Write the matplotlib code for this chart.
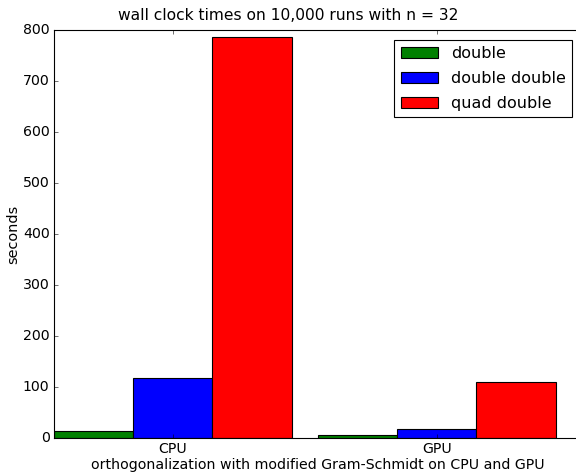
import numpy as np
import matplotlib
matplotlib.use("Agg")
import matplotlib.pyplot as plt

plt.style.use("classic")

categories = ["CPU", "GPU"]
series_names = ["double", "double double", "quad double"]
double_vals = [14, 5.5]
dd_vals = [117, 17.5]
qd_vals = [786, 109]
colors = ["green", "blue", "red"]

DPI = 80
fig = plt.figure(figsize=(576 / DPI, 472 / DPI), dpi=DPI)
ax = fig.add_axes([54 / 576, 1 - 438 / 472, 528 / 576, 408 / 472])

ind = np.arange(len(categories))
width = 0.3
for i, (vals, name, c) in enumerate(zip([double_vals, dd_vals, qd_vals], series_names, colors)):
    ax.bar(ind + i * width, vals, width, color=c, label=name, align="edge")

FS = 12.7
ax.set_xlim(0, 2)
ax.set_ylim(0, 800)
ax.set_xticks(ind + 1.5 * width)
ax.set_xticklabels(categories, fontsize=FS)
ax.tick_params(axis="y", labelsize=FS)
ax.set_ylabel("seconds", fontsize=13, labelpad=2)
ax.set_xlabel("orthogonalization with modified Gram-Schmidt on CPU and GPU", fontsize=FS, labelpad=1)
ax.legend(loc="upper right", fontsize=14.4, labelspacing=0.62, handlelength=2.3,
          handletextpad=0.85, borderaxespad=0.6)
fig.text(0.5, 1 - 15 / 472, "wall clock times on 10,000 runs with n = 32",
         ha="center", va="center", fontsize=14)
fig.savefig("out.png", dpi=DPI)
